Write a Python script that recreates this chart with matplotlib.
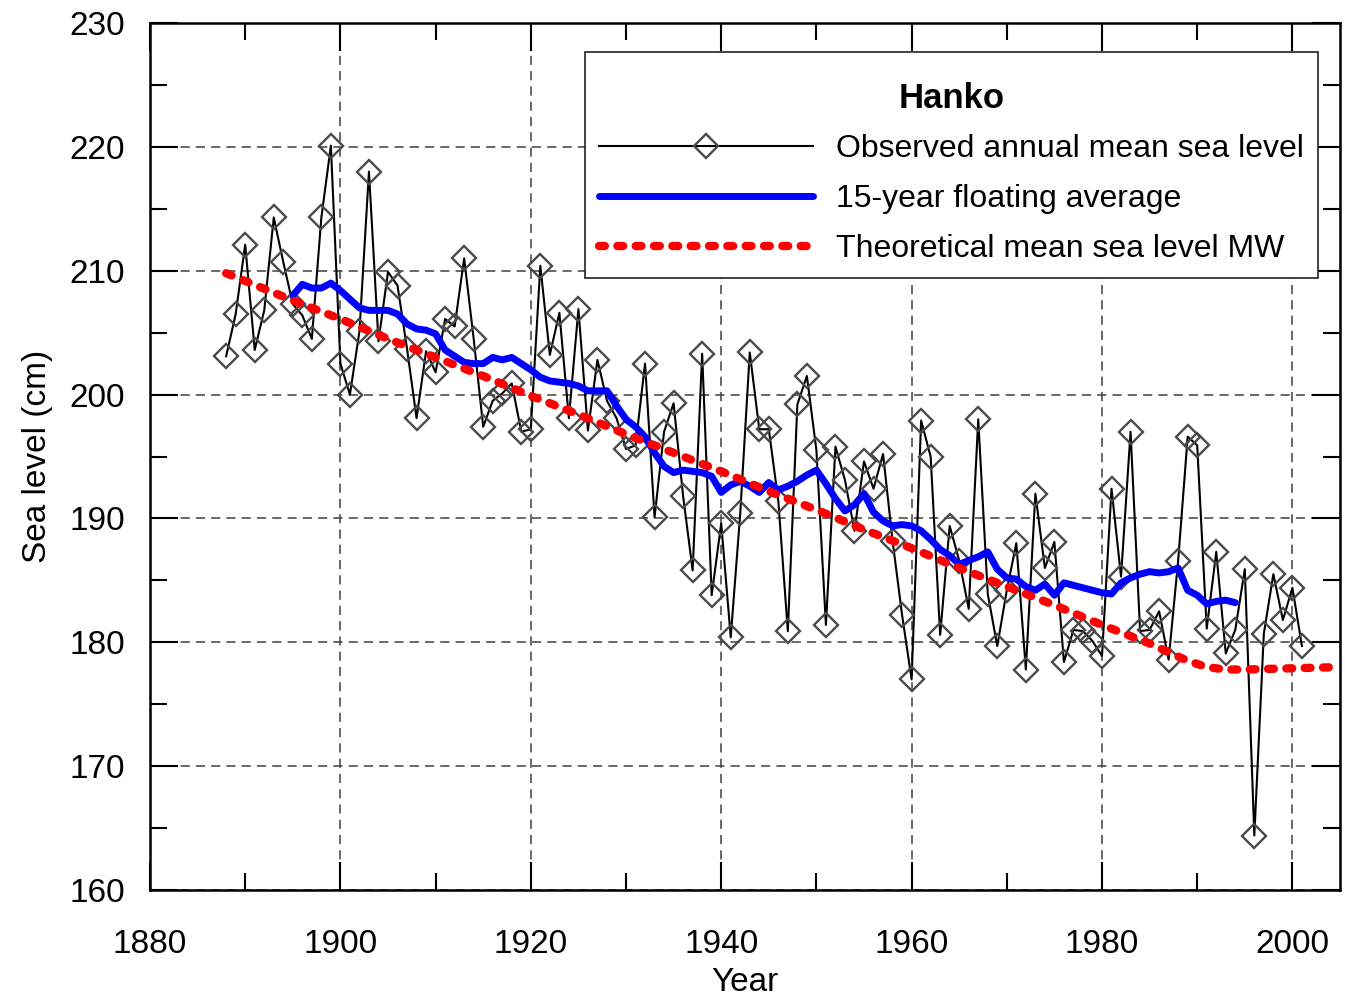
import numpy as np
import matplotlib
matplotlib.use("Agg")
import matplotlib.pyplot as plt
from matplotlib.ticker import MultipleLocator
from matplotlib.offsetbox import VPacker, DrawingArea

plt.rcParams['font.family'] = ['Liberation Sans', 'DejaVu Sans']

# observed annual mean sea level (cm), Hanko
years = np.arange(1888, 2002)
observed = [203.1, 206.5, 212.1, 203.6, 206.8, 214.3, 210.7, 207.3, 206.4, 204.5,
            214.3, 220.1, 202.5, 200.0, 205.1, 218.0, 204.3, 209.9, 208.8, 203.7,
            198.1, 203.5, 201.8, 206.1, 205.5, 211.0, 204.5, 197.4, 199.5, 200.1,
            200.9, 197.0, 197.2, 210.4, 203.2, 206.6, 198.1, 206.9, 197.1, 202.8,
            199.5, 198.1, 195.6, 195.9, 202.5, 190.1, 197.0, 199.3, 191.8, 185.8,
            203.3, 183.8, 189.6, 180.4, 190.4, 203.4, 197.2, 197.2, 191.4, 180.9,
            199.2, 201.5, 195.5, 181.4, 195.8, 193.1, 189.0, 194.6, 192.4, 195.2,
            188.2, 182.2, 177.0, 197.9, 195.0, 180.6, 189.4, 186.6, 182.7, 198.0,
            183.9, 179.7, 184.2, 188.0, 177.8, 192.0, 186.0, 188.1, 178.4, 181.0,
            180.9, 180.1, 178.9, 192.4, 185.3, 197.0, 180.9, 181.0, 182.5, 178.6,
            186.6, 196.6, 195.9, 181.1, 187.3, 179.1, 181.0, 185.9, 164.4, 180.7,
            185.5, 181.8, 184.4, 179.7]

# 15-year floating average, 1895..1994
avg_years = np.arange(1895, 1995)
floating_avg = [208.0, 208.9, 208.6, 208.6, 209.0, 208.4, 207.7, 207.0, 206.8, 206.8,
                206.8, 206.5, 205.7, 205.3, 205.2, 204.9, 203.6, 203.1, 202.6, 202.5,
                202.5, 203.0, 202.8, 203.0, 202.5, 202.0, 201.4, 201.1, 201.0, 200.9,
                200.7, 200.3, 200.3, 200.3, 199.1, 198.0, 197.4, 196.6, 195.3, 194.2,
                193.7, 193.9, 193.8, 193.7, 193.4, 192.1, 192.7, 193.0, 192.6, 192.1,
                192.9, 192.3, 192.6, 193.0, 193.5, 193.9, 192.8, 191.6, 190.6, 191.1,
                192.0, 190.5, 189.8, 189.4, 189.5, 189.4, 189.0, 188.3, 187.5, 187.0,
                186.3, 186.6, 186.9, 187.3, 185.9, 185.2, 185.1, 184.5, 184.2, 184.7,
                183.8, 184.8, 184.6, 184.4, 184.2, 184.0, 183.9, 184.8, 185.2, 185.5,
                185.7, 185.6, 185.7, 186.0, 184.2, 183.8, 183.1, 183.3, 183.4, 183.2]

# theoretical mean sea level MW
mw_years = [1888, 1895, 1900, 1905, 1910, 1915, 1920, 1925, 1930, 1935, 1940, 1945,
            1950, 1955, 1960, 1965, 1970, 1975, 1980, 1983, 1985, 1987, 1989, 1991,
            1993, 1995, 2000, 2005]
mw_level = [209.8, 207.6, 206.1, 204.5, 203.0, 201.5, 199.9, 198.4, 196.8, 195.3,
            193.8, 192.2, 190.7, 189.1, 187.6, 186.0, 184.5, 183.0, 181.4, 180.5,
            179.9, 179.2, 178.5, 178.0, 177.8, 177.8, 177.9, 178.0]

fig = plt.figure(figsize=(13.45, 10.08), dpi=100)
ax = fig.add_axes([150/1345, 1 - 890/1008, 1190/1345, 867/1008])

ax.plot(years, observed, color='black', lw=1.5, marker='D', markersize=12.5,
        markerfacecolor='none', markeredgecolor='#4a4a4a', markeredgewidth=1.7,
        label='Observed annual mean sea level', zorder=3)
ax.plot(avg_years, floating_avg, color='#0000ff', lw=5, solid_capstyle='round',
        label='15-year floating average', zorder=4)
ax.plot(mw_years, mw_level, color='#ff0000', lw=6, linestyle=(0, (0.7, 1.5)),
        dash_capstyle='round', label='Theoretical mean sea level MW', zorder=5)

ax.set_xlim(1880, 2005)
ax.set_ylim(160, 230)
ax.xaxis.set_major_locator(MultipleLocator(20))
ax.xaxis.set_minor_locator(MultipleLocator(10))
ax.yaxis.set_major_locator(MultipleLocator(10))
ax.yaxis.set_minor_locator(MultipleLocator(5))
ax.tick_params(which='both', direction='in', top=True, right=True, width=1.5,
               labelsize=24)
ax.tick_params(which='major', length=20)
ax.tick_params(which='minor', length=12)
ax.tick_params(axis='x', which='major', pad=28)
ax.tick_params(axis='y', which='major', pad=18)
for s in ax.spines.values():
    s.set_linewidth(1.8)

ax.grid(True, which='major', linestyle=(0, (6, 4)), color='#404040', lw=1.1)

ax.set_xlabel('Year', fontsize=24, labelpad=5)
ax.set_ylabel('Sea level (cm)', fontsize=24, labelpad=12)

leg = ax.legend(loc='upper left', bbox_to_anchor=(585/1345, 1 - 52/1008),
                bbox_transform=fig.transFigure, borderaxespad=0, fontsize=23,
                title='Hanko', title_fontproperties={'weight': 'bold', 'size': 25},
                handlelength=6.7, handletextpad=0.7, labelspacing=0.62,
                numpoints=1, fancybox=False, framealpha=1, borderpad=0.45)
leg.get_frame().set_edgecolor('#222222')
leg.get_frame().set_linewidth(1.2)
leg.set_zorder(10)

# extra space above the legend title
try:
    kids = leg._legend_box.get_children()
    spacer = DrawingArea(1, 11)
    kids[0] = VPacker(children=[spacer, kids[0]], pad=0, sep=0, align='center')
    kids[0].set_figure(fig)
except Exception:
    pass

fig.savefig('out.png', dpi=100)
